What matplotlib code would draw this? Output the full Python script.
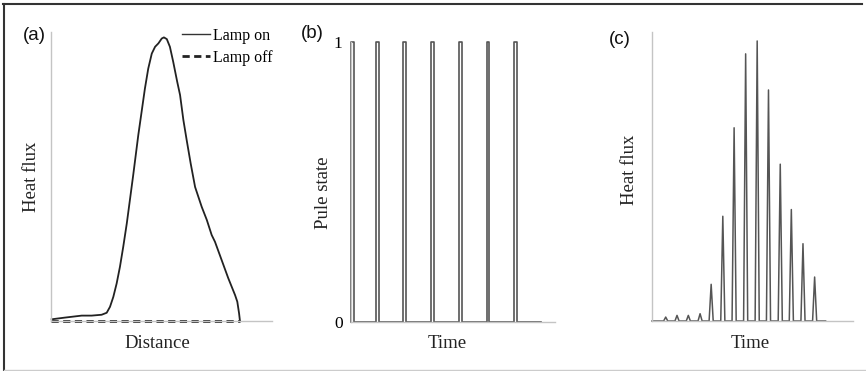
import numpy as np
import matplotlib
matplotlib.use('Agg')
import matplotlib.pyplot as plt
from matplotlib.lines import Line2D

# panel (a): heat flux profile along distance, lamp on
dist = [0.3, 6.3, 13.9, 18.4, 22.9, 25.2, 26.7, 28.2, 29.7, 31.2, 32.7, 34.3,
        37.2, 39.5, 41.0, 42.5, 44.0, 45.6, 47.1, 48.6, 50.1, 51.1, 52.4, 53.8,
        55.3, 57.1, 58.4, 59.9, 61.4, 63.2, 65.2, 68.2, 70.5, 72.7, 74.2, 77.2,
        80.2, 83.3, 84.3, 85.1, 85.5]
flux_on = [0.006, 0.012, 0.019, 0.019, 0.022, 0.029, 0.050, 0.085, 0.132, 0.191,
           0.262, 0.344, 0.514, 0.655, 0.737, 0.819, 0.889, 0.942, 0.966, 0.978,
           0.995, 0.999, 0.993, 0.966, 0.913, 0.843, 0.796, 0.708, 0.637, 0.555,
           0.472, 0.402, 0.356, 0.303, 0.279, 0.215, 0.151, 0.091, 0.068, 0.027,
           0.0]
flux_off_x = [0.0, 85.5]
flux_off = [0.0, 0.0]

# panel (b): pulse start times, pulse width, end of signal
pulse_starts = [0.0, 0.92, 1.9, 2.93, 3.95, 4.97, 5.97]
pulse_width = 0.1
pulse_end = 6.96

# panel (c): heat flux peaks over time
peak_times = [0.5, 1.2, 2.19, 3.18, 4.21, 5.18, 6.2, 7.19, 8.2, 9.21, 10.2,
              11.23, 12.2, 13.22, 14.24]
peak_heights = [0.0, 0.014, 0.02, 0.02, 0.026, 0.131, 0.374, 0.69, 0.954, 1.0,
                0.825, 0.56, 0.398, 0.276, 0.157]
peak_half = 0.18
flux_end = 15.2

W, H = 866, 371
fig = plt.figure(figsize=(W / 100, H / 100), dpi=100)

def box(l, r, t, b):
    return [l / W, 1 - b / H, (r - l) / W, (b - t) / H]

serif = 'Liberation Serif'
axis_gray = '#c4c4c4'

def style(ax):
    for s in ['top', 'right']:
        ax.spines[s].set_visible(False)
    for s in ['left', 'bottom']:
        ax.spines[s].set_color(axis_gray)
        ax.spines[s].set_linewidth(1.0)
    ax.set_xticks([])
    ax.set_yticks([])
    ax.patch.set_alpha(0)

# (a)
ax1 = fig.add_axes(box(51, 272, 32, 321))
style(ax1)
ax1.plot(dist, flux_on, color='#222222', lw=1.3, clip_on=False)
ax1.plot(flux_off_x, flux_off, color='#222222', lw=2.0, ls=(0, (2.6, 1.6)), clip_on=False)
ax1.set_xlim(0, 100)
ax1.set_ylim(0, 1.018)
handles = [Line2D([], [], color='#333333', lw=1.0),
           Line2D([], [], color='#222222', lw=2.0, ls=(0, (2.6, 1.6)))]
ax1.legend(handles, ['Lamp on', 'Lamp off'], loc='upper right',
           bbox_to_anchor=(1.067, 1.065), frameon=False, handlelength=1.75,
           handletextpad=0.2, labelspacing=0.4, prop={'family': serif, 'size': 11.5})

# (b)
ax2 = fig.add_axes(box(351, 555, 42, 322))
style(ax2)
tx, ty = [0.0], [0.0]
for s in pulse_starts:
    tx += [s, s, s + pulse_width, s + pulse_width]
    ty += [0, 1, 1, 0]
tx.append(pulse_end)
ty.append(0)
ax2.plot(tx, ty, color='#555555', lw=1.2, clip_on=False)
ax2.set_xlim(0, 7.47)
ax2.set_ylim(0, 1)
ax2.set_yticks([0, 1])
ax2.set_yticklabels(['0', '1'], fontfamily=serif, fontsize=12.5)
ax2.tick_params(axis='y', length=0, pad=6)

# (c)
ax3 = fig.add_axes(box(652, 853, 32, 321))
style(ax3)
cx, cy = [0.0], [0.0]
for t, h in zip(peak_times, peak_heights):
    cx += [t - peak_half, t, t + peak_half]
    cy += [0, h, 0]
cx.append(flux_end)
cy.append(0)
ax3.plot(cx, cy, color='#555555', lw=1.1, clip_on=False)
ax3.set_xlim(0, 17.6)
ax3.set_ylim(0, 1.032)

# labels
def ftext(x, y, s, **kw):
    fig.text(x / W, 1 - y / H, s, ha='center', va='center', **kw)

lab = dict(family=serif, fontsize=13.5, color='#222222')
ftext(32, 177, 'Heat flux', rotation=90, **lab)
ftext(157, 343, 'Distance', **lab)
ftext(323, 193, 'Pule state', rotation=90, **lab)
ftext(447, 343, 'Time', **lab)
ftext(630, 170, 'Heat flux', rotation=90, **lab)
ftext(750, 343, 'Time', **lab)

pan = dict(family='Liberation Sans', fontsize=13.5, color='#111111')
ftext(34, 35, '(a)', **pan)
ftext(312, 34, '(b)', **pan)
ftext(620, 39, '(c)', **pan)

# outer frame
fig.add_artist(Line2D([3 / W, 862 / W], [1 - 4 / H, 1 - 4 / H], color='#333333', lw=1.5))
fig.add_artist(Line2D([4 / W, 4 / W], [1 - 4 / H, 0], color='#333333', lw=1.5))
fig.add_artist(Line2D([4 / W, 1], [1 - 369.5 / H, 1 - 369.5 / H], color='#cccccc', lw=1.0))

fig.savefig('out.png', dpi=100)
